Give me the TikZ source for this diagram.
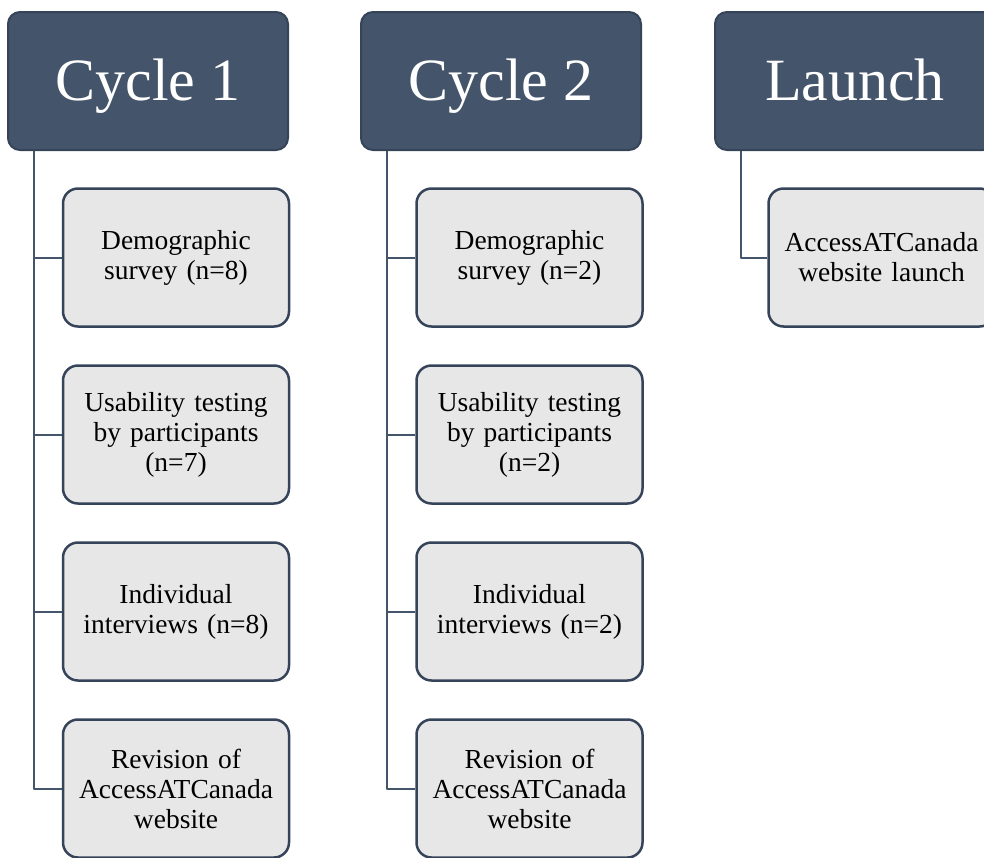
\documentclass[tikz,border=0pt]{standalone}
\usepackage{fontspec}
\setmainfont{Liberation Serif}
\definecolor{slate}{HTML}{44546A}
\definecolor{slateline}{HTML}{36445A}
\definecolor{boxgray}{HTML}{E7E7E7}
\begin{document}
\begin{tikzpicture}[x=1pt, y=-1pt, line join=round,
	head/.style={draw=slateline, line width=2pt, fill=slate, rounded corners=12pt, minimum width=280pt, minimum height=138pt, inner sep=0pt, text height=44pt, text depth=6pt, text=white, font=\fontsize{60}{66}\selectfont},
	task/.style={draw=slateline, line width=2.5pt, fill=boxgray, rounded corners=15pt, minimum width=226pt, minimum height=138pt, inner sep=0pt, text width=214pt, align=center, font=\fontsize{27.5}{30}\selectfont},
	link/.style={draw=slate, line width=2pt}]
	\useasboundingbox (0,0) rectangle (984,857);
	\clip (0,0) rectangle (984,857);
	% phase headers
	\node[head] (cyc1) at (148,81) {Cycle 1};
	\node[head] (cyc2) at (501,81) {Cycle 2};
	\node[head] (launch) at (855,81) {Launch};
	% tasks of each phase
	\foreach \t [count=\i] in {{Demographic\\survey (n=8)}, {Usability testing\\by participants\\(n=7)}, {Individual\\interviews (n=8)}, {Revision of\\AccessATCanada\\website}}
	\node[task] (taskA\i) at (176,80.5+177*\i) {\t};
	\foreach \t [count=\i] in {{Demographic\\survey (n=2)}, {Usability testing\\by participants\\(n=2)}, {Individual\\interviews (n=2)}, {Revision of\\AccessATCanada\\website}}
	\node[task] (taskB\i) at (529.5,80.5+177*\i) {\t};
	\node[task] (taskC1) at (881.5,257.5) {AccessATCanada\\website launch};
	% connectors
	\foreach \i in {1,...,4}
	\draw[link] ([xshift=27pt]cyc1.south west) |- (taskA\i.west);
	\foreach \i in {1,...,4}
	\draw[link] ([xshift=27pt]cyc2.south west) |- (taskB\i.west);
	\draw[link] ([xshift=27pt]launch.south west) |- (taskC1.west);
\end{tikzpicture}
\end{document}
